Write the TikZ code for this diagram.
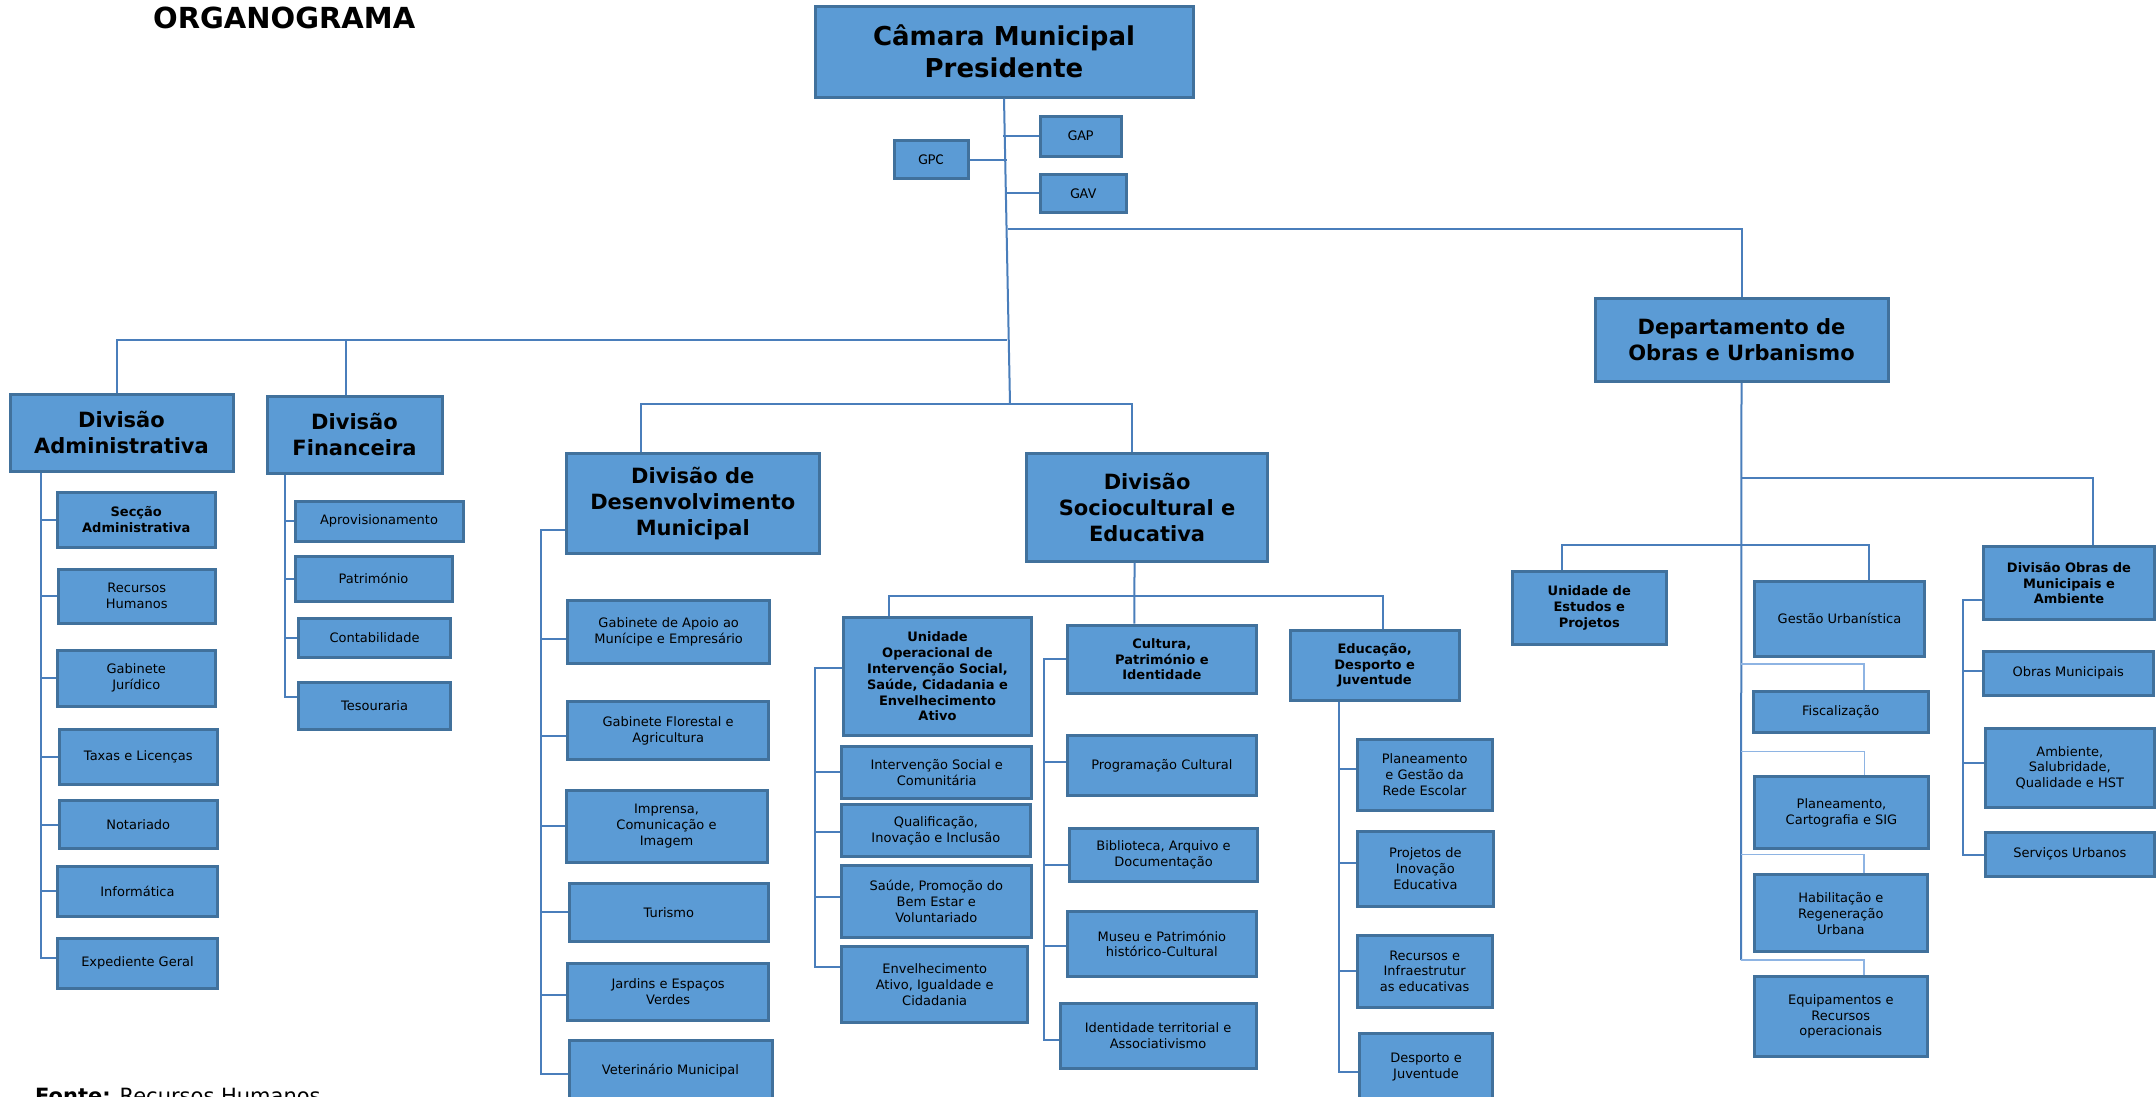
\documentclass[tikz,border=0pt]{standalone}
\usepackage{fontspec}
\setmainfont{DejaVu Sans}
\newfontfamily\calib{Carlito}
\usetikzlibrary{calc}
\definecolor{boxc}{HTML}{5B9BD5}
\definecolor{bordc}{HTML}{41719C}
\definecolor{linec}{HTML}{4A7EBB}
\definecolor{lightc}{HTML}{8EB4E3}
\newcommand\fReg{\fontsize{13}{15.8}\selectfont}
\newcommand\fBld{\bfseries\fontsize{13}{15.8}\selectfont}
\newcommand\fHead{\bfseries\fontsize{21}{26}\selectfont}
\newcommand\fTop{\bfseries\fontsize{26}{32}\selectfont}
\newcommand\fCal{\calib\fontsize{15}{18}\selectfont}
\newcommand\bx[7][]{\node[box,#1,minimum width={(#5-#3)*1pt},minimum height={(#6-#4)*1pt}] (#2) at ({(#3+#5)/2},{(#4+#6)/2}) {#7};}
\tikzset{
  box/.style={draw=bordc, fill=boxc, line width=3pt, inner sep=1pt, align=center, font=\fReg, text=black},
  bld/.style={font=\fBld},
  head/.style={font=\fHead},
  topb/.style={font=\fTop},
  cal/.style={font=\fCal},
  conn/.style={draw=linec, line width=2pt},
  lconn/.style={draw=lightc, line width=1.6pt},
}
\begin{document}
\begin{tikzpicture}[x=1pt,y=-1pt]
\useasboundingbox (0,0) rectangle (2156,1096);
\fill[white] (0,0) rectangle (2156,1096);
\node[anchor=base west,font=\bfseries\fontsize{29}{34}\selectfont,inner sep=0pt] (title) at (153,28) {ORGANOGRAMA};
\node[anchor=base west,font=\fontsize{21}{25}\selectfont,inner sep=0pt] (fonte) at (35,1103) {\textbf{Fonte:} Recursos Humanos};

% ---- top
\bx[topb]{cam}{815}{6}{1193}{97}{Câmara Municipal\\Presidente}
\bx[cal]{gap}{1040.5}{116}{1121}{156}{GAP}
\bx[cal]{gpc}{894}{140.5}{968}{178.5}{GPC}
\bx[cal]{gav}{1040.5}{174}{1126}{212.5}{GAV}

% ---- divisions
\bx[head]{adm}{10}{394}{233}{471}{Divisão\\Administrativa}
\bx[head]{fin}{267}{396}{442}{473}{Divisão\\Financeira}
\bx[head]{des}{566.6}{453.6}{819}{553.6}{Divisão de\\Desenvolvimento\\Municipal}
\bx[head]{soc}{1026.7}{453.6}{1267.5}{561}{Divisão\\Sociocultural e\\Educativa}
\bx[head]{dep}{1595}{298}{1888}{381.5}{Departamento de\\Obras e Urbanismo}

% ---- administrativa
\bx[bld]{secc}{57.5}{492}{215}{547}{Secção\\Administrativa}
\bx{rh}{58.5}{569}{215}{623}{Recursos\\Humanos}
\bx{gj}{57.5}{650}{215}{706}{Gabinete\\Jurídico}
\bx{tax}{59}{729}{217.5}{784}{Taxas e Licenças}
\bx{nota}{59}{800.5}{217.5}{848.5}{Notariado}
\bx{inf}{57.5}{866}{217.5}{916.5}{Informática}
\bx{exp}{57.5}{938}{217.5}{988}{Expediente Geral}

% ---- financeira
\bx{apr}{295}{501}{463}{541}{Aprovisionamento}
\bx{pat}{295}{556}{452}{601}{Património}
\bx{cont}{298.5}{618}{450.6}{657}{Contabilidade}
\bx{tes}{298.5}{682}{450.6}{729}{Tesouraria}

% ---- desenvolvimento
\bx{gaa}{567.7}{600}{769.7}{663.5}{Gabinete de Apoio ao\\Munícipe e Empresário}
\bx{gfa}{567.7}{701.5}{768.6}{759.7}{Gabinete Florestal e\\Agricultura}
\bx{imp}{566}{790.7}{767}{862}{Imprensa,\\Comunicação e\\Imagem}
\bx{tur}{569}{883}{768.6}{941.6}{Turismo}
\bx{jar}{567.7}{963}{768.6}{1020}{Jardins e Espaços\\Verdes}
\bx{vet}{569}{1040.7}{772}{1100}{Veterinário Municipal}

% ---- sociocultural
\bx[bld]{uni}{843.3}{617.3}{1031.7}{735.7}{Unidade\\Operacional de\\Intervenção Social,\\Saúde, Cidadania e\\Envelhecimento\\Ativo}
\bx{isc}{841.7}{746}{1031.7}{798.3}{Intervenção Social e\\Comunitária}
\bx{qii}{841.7}{804}{1030}{856.7}{Qualificação,\\Inovação e Inclusão}
\bx{spb}{841}{865}{1031.7}{937.7}{Saúde, Promoção do\\Bem Estar e\\Voluntariado}
\bx{eai}{841.7}{946.7}{1027.7}{1022.7}{Envelhecimento\\Ativo, Igualdade e\\Cidadania}
\bx[bld]{cpi}{1067.7}{625}{1256}{693.3}{Cultura,\\Património e\\Identidade}
\bx{pc}{1067.7}{735}{1256}{795.7}{Programação Cultural}
\bx{bad}{1069.3}{828.3}{1257.7}{881}{Biblioteca, Arquivo e\\Documentação}
\bx{mph}{1067.7}{911}{1256}{976.7}{Museu e Património\\histórico-Cultural}
\bx{ita}{1060}{1003.3}{1256}{1068.3}{Identidade territorial e\\Associativismo}
\bx[bld]{edj}{1290.3}{630}{1459}{700.7}{Educação,\\Desporto e\\Juventude}
\bx{pgr}{1357}{739.3}{1492.3}{810}{Planeamento\\e Gestão da\\Rede Escolar}
\bx{pie}{1357}{831}{1493.7}{906}{Projetos de\\Inovação\\Educativa}
\bx{rie}{1357}{935}{1492.3}{1007.3}{Recursos e\\Infraestrutur\\as educativas}
\bx{dju}{1359.7}{1033.3}{1492.3}{1100}{Desporto e\\Juventude}

% ---- obras e urbanismo
\bx[bld]{uep}{1512.5}{571.7}{1666}{644.6}{Unidade de\\Estudos e\\Projetos}
\bx{gu}{1754.6}{581}{1924.3}{656}{Gestão Urbanística}
\bx{fis}{1753}{691.5}{1928.4}{732}{Fiscalização}
\bx{pcs}{1754.6}{776.4}{1928.4}{848.7}{Planeamento,\\Cartografia e SIG}
\bx{hru}{1754.6}{874.8}{1927}{951.9}{Habilitação e\\Regeneração\\Urbana}
\bx{ero}{1754.6}{976.9}{1927}{1056}{Equipamentos e\\Recursos\\operacionais}
\bx[bld]{dom}{1983.4}{546.7}{2154.6}{619.6}{Divisão Obras de\\Municipais e\\Ambiente}
\bx{om}{1983.4}{651.4}{2153}{695.1}{Obras Municipais}
\bx{asq}{1985}{728}{2154.6}{807.6}{Ambiente,\\Salubridade,\\Qualidade e HST}
\bx{su}{1985}{832}{2154.6}{876.4}{Serviços Urbanos}

% ================= connectors
\coordinate (tb) at (1010,404);
\draw[conn] (cam.south) -- (tb);
\draw[conn] (gap.west) -- ++(-36,0);
\draw[conn] (gpc.east) -- ++(37,0);
\draw[conn] (gav.west) -- ++(-33,0);
\coordinate (dj) at (1008,229);
\draw[conn] (dj) -| (dep.north);
\coordinate (lb) at (1007,340);
\draw[conn] (lb) -| ([xshift=-4.5pt]adm.north);
\draw[conn] ([xshift=-8.5pt]fin.north) -- ([xshift=-8.5pt]fin.north |- lb);
\draw[conn] ([xshift=-51.8pt]des.north) |- (tb) -| ([xshift=-15pt]soc.north);

% sociocultural bar
\coordinate (sb) at (1134.5,596);
\draw[conn] ([xshift=-12.6pt]soc.south) -- ([xshift=-27.4pt]cpi.north);
\draw[conn] ([xshift=-48.5pt]uni.north) |- (sb) -| ([xshift=8pt]edj.north);

% administrativa bracket
\coordinate (ab) at (41,958);
\draw[conn] (adm.south -| ab) -- (ab) -- (ab -| exp.west);
\foreach \n in {secc,rh,gj,tax,nota,inf}{\draw[conn] (\n.west) -- (\n.west -| ab);}

% financeira bracket
\coordinate (fb) at (285,697);
\draw[conn] (fin.south -| fb) -- (fb) -- (fb -| tes.west);
\foreach \n in {apr,pat,cont}{\draw[conn] (\n.west) -- (\n.west -| fb);}

% desenvolvimento bracket
\coordinate (db) at (541,1074);
\draw[conn] ([yshift=-26.4pt]des.west) -| (db) -- (db -| vet.west);
\foreach \n/\s in {gaa/-7,gfa/-5,imp/0,tur/0,jar/-3}{\draw[conn] ([yshift=\s pt]\n.west) -- ([yshift=\s pt]\n.west -| db);}

% unidade bracket
\coordinate (ub) at (815,966.7);
\draw[conn] ([yshift=9pt]uni.west) -| (ub) -- (ub -| eai.west);
\foreach \n/\s in {isc/0,qii/-2,spb/4}{\draw[conn] ([yshift=\s pt]\n.west) -- ([yshift=\s pt]\n.west -| ub);}

% cultura bracket
\coordinate (cb) at (1044.3,1040);
\draw[conn] (cpi.west) -| (cb) -- (cb -| ita.west);
\foreach \n/\s in {pc/3,bad/-10,mph/-2}{\draw[conn] ([yshift=\s pt]\n.west) -- ([yshift=\s pt]\n.west -| cb);}

% educacao bracket
\coordinate (eb) at (1339.3,1071.5);
\draw[conn] (edj.south -| eb) -- (eb) -- (eb -| dju.west);
\foreach \n/\s in {pgr/6,pie/6,rie/0}{\draw[conn] ([yshift=\s pt]\n.west) -- ([yshift=\s pt]\n.west -| eb);}

% departamento
\coordinate (kb) at (1741,960);
\draw[conn] (dep.south) -- (kb);
\coordinate (k1) at (1741,478);
\draw[conn] (k1) -| ([xshift=24pt]dom.north);
\coordinate (k2) at (1741,544.6);
\draw[conn] ([xshift=-27pt]uep.north) |- (k2) -| ([xshift=29.5pt]gu.north);
\coordinate (k3) at (1741,663.9);
\coordinate (k4) at (1741,751.4);
\coordinate (k5) at (1741,854.5);
\coordinate (k6) at (1741,959.7);
\draw[lconn] ([xshift=23pt]fis.north) |- (k3);
\draw[lconn] ([xshift=23pt]pcs.north) |- (k4);
\draw[lconn] ([xshift=23pt]hru.north) |- (k5);
\draw[lconn] ([xshift=23pt]ero.north) |- (k6);

% obras municipais bracket
\coordinate (ob) at (1962.8,854.5);
\draw[conn] ([yshift=-17pt]dom.west) -| (ob) -- (ob -| su.west);
\foreach \n/\s in {om/2,asq/5}{\draw[conn] ([yshift=\s pt]\n.west) -- ([yshift=\s pt]\n.west -| ob);}
\end{tikzpicture}
\end{document}
